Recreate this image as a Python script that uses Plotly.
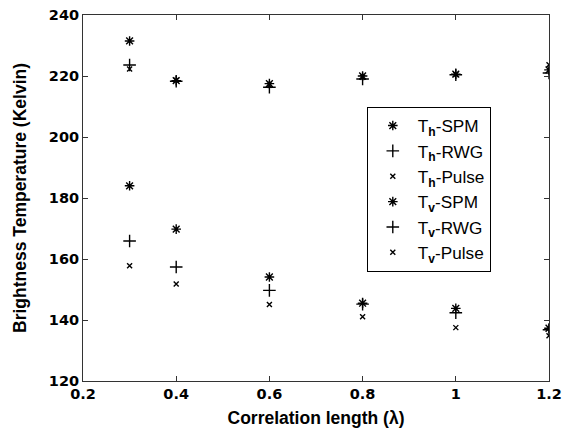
import plotly.graph_objects as go

# Correlation length (lambda)
corr_len = [0.3, 0.4, 0.6, 0.8, 1.0, 1.2]

# Brightness temperatures (Kelvin)
th_spm = [231.5, 218.5, 217.5, 220.0, 220.6, 222.0]
th_rwg = [223.6, 218.3, 216.3, 219.0, 220.4, 221.0]
th_pulse = [222.3, 218.6, 217.0, 219.6, 220.5, 223.7]
tv_spm = [184.0, 169.8, 154.1, 145.5, 143.8, 137.3]
tv_rwg = [165.9, 157.4, 149.7, 145.2, 142.4, 136.8]
tv_pulse = [157.8, 151.8, 145.1, 141.1, 137.5, 134.8]

series = [
    ('T<sub><b>h</b></sub>-SPM', th_spm, 'asterisk-open', 8),
    ('T<sub><b>h</b></sub>-RWG', th_rwg, 'cross-thin-open', 9),
    ('T<sub><b>h</b></sub>-Pulse', th_pulse, 'x-thin-open', 5),
    ('T<sub><b>v</b></sub>-SPM', tv_spm, 'asterisk-open', 8),
    ('T<sub><b>v</b></sub>-RWG', tv_rwg, 'cross-thin-open', 9),
    ('T<sub><b>v</b></sub>-Pulse', tv_pulse, 'x-thin-open', 5),
]

fig = go.Figure()
for name, vals, sym, size in series:
    fig.add_trace(go.Scatter(
        x=corr_len, y=vals, mode='markers', name=name,
        marker=dict(symbol=sym, size=size, color='black',
                    line=dict(color='black', width=1.4)),
    ))

axis_style = dict(
    showline=True, linecolor='#333', linewidth=1, mirror='ticks',
    ticks='inside', ticklen=5, tickcolor='#333',
    showgrid=False, zeroline=False, automargin=False,
    ticklabeloverflow='allow',
    tickfont=dict(size=14.5, color='black', family='DejaVu Sans', weight='bold'),
)

fig.update_layout(
    width=562, height=436,
    margin=dict(l=83, r=13, t=15, b=55),
    paper_bgcolor='white', plot_bgcolor='white',
    font=dict(family='Liberation Sans', color='black'),
    xaxis=dict(range=[0.2, 1.2], tickvals=[0.2, 0.4, 0.6, 0.8, 1.0, 1.2],
               ticktext=['0.2', '0.4', '0.6', '0.8', '1', '1.2'],
               title=dict(text='Correlation length (λ)',
                          font=dict(size=17.5, weight='bold'), standoff=10),
               **axis_style),
    yaxis=dict(range=[120, 240], dtick=20,
               title=dict(text='Brightness Temperature (Kelvin)',
                          font=dict(size=17.5, weight='bold'), standoff=17),
               **axis_style),
    showlegend=True,
    legend=dict(x=0.609, y=0.749, xanchor='left', yanchor='top',
                bordercolor='black', borderwidth=1, bgcolor='white',
                font=dict(size=17.2, family='Liberation Sans'),
                itemwidth=40),
)

# drop the page's default body margin so the figure sits at the top-left corner
fig.write_html("out.html", config={'displayModeBar': False},
               post_script="document.body.style.margin='0';")
